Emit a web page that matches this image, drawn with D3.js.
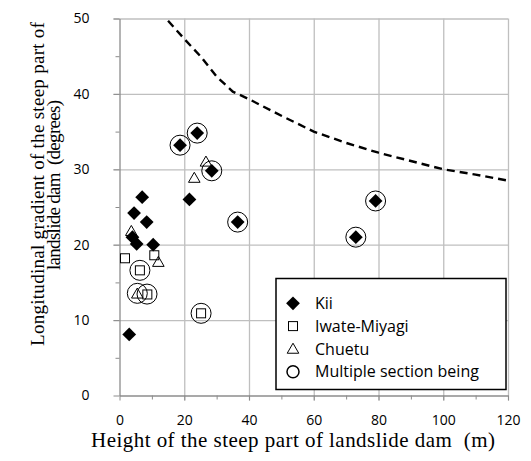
<!DOCTYPE html>
<html>
<head>
<meta charset="utf-8">
<script src="https://d3js.org/d3.v7.min.js"></script>
<style>
  body { margin: 0; background: #fff; }
  .tick text { font-family: "Open Sans", Lato, sans-serif; font-size: 14px; fill: #000; }
  .axisTitle { font-family: "Liberation Serif", "Times New Roman", serif; font-size: 19px; fill: #000; }
  .legendText { font-family: "Open Sans", Lato, sans-serif; font-size: 16px; fill: #000; }
</style>
</head>
<body>
<div id="scatter"></div>
<script>
// data
var kiiX = [3.0, 4.0, 4.5, 5.3, 7.0, 8.4, 10.4, 18.7, 21.6, 24.0, 28.5, 36.5, 73.0, 79.1];
var kiiY = [8.1, 21.0, 24.2, 20.1, 26.3, 23.0, 20.0, 33.2, 26.0, 34.8, 29.8, 23.0, 21.0, 25.8];

var iwateX = [1.7, 10.75, 6.3, 8.6, 25.2];
var iwateY = [18.2, 18.6, 16.6, 13.4, 10.9];

var chuetuX = [3.65, 12.0, 5.5, 23.1, 26.7];
var chuetuY = [21.8, 17.7, 13.5, 28.85, 31.0];

var multiX = [18.7, 24.0, 28.5, 36.5, 73.0, 79.1, 25.2, 6.3, 5.5, 8.5];
var multiY = [33.2, 34.8, 29.8, 23.0, 21.0, 25.8, 10.9, 16.6, 13.55, 13.45];

var limitX = [15, 20, 25, 30, 35, 40, 50, 60, 70, 80, 90, 100, 110, 120];
var limitY = [49.7, 47.3, 45.0, 42.3, 40.3, 39.3, 37.1, 35.0, 33.5, 32.2, 31.1, 30.0, 29.3, 28.5];

var xTicks = [0, 20, 40, 60, 80, 100, 120];
var yTicks = [0, 10, 20, 30, 40, 50];
var legendLabels = ["Kii", "Iwate-Miyagi", "Chuetu", "Multiple section being"];

var svgWidth = 531;
var svgHeight = 461;

var svg = d3.select("#scatter")
  .append("svg")
  .attr("width", svgWidth)
  .attr("height", svgHeight);

// scales
var x = d3.scaleLinear().domain([0, 120]).range([119.5, 508]);
var y = d3.scaleLinear().domain([0, 50]).range([395.5, 18.5]);

var gridColor = "#bfbfbf";
var axisColor = "#8c8c8c";

// gridlines (with the outer major ticks)
var yGrid = svg.append("g")
  .attr("transform", `translate(${x(120)},0)`)
  .call(d3.axisLeft(y).tickValues(yTicks.slice(1)).tickSize(x(120) - x(0) + 6).tickFormat(""));
yGrid.select(".domain").remove();
yGrid.selectAll("line").attr("stroke", gridColor).attr("stroke-width", 1.3);

var xGrid = svg.append("g")
  .attr("transform", `translate(0,${y(0) + 5})`)
  .call(d3.axisTop(x).tickValues(xTicks.slice(1)).tickSize(y(0) - y(50) + 5).tickFormat(""));
xGrid.select(".domain").remove();
xGrid.selectAll("line").attr("stroke", gridColor).attr("stroke-width", 1.3);

// minor ticks
var yMinor = svg.append("g")
  .attr("transform", `translate(${x(0)},0)`)
  .call(d3.axisLeft(y).tickValues([5, 15, 25, 35, 45]).tickSize(4).tickFormat(""));
yMinor.select(".domain").remove();
yMinor.selectAll("line").attr("stroke", axisColor);

var xMinor = svg.append("g")
  .attr("transform", `translate(0,${y(0)})`)
  .call(d3.axisBottom(x).tickValues([10, 30, 50, 70, 90, 110]).tickSize(4).tickFormat(""));
xMinor.select(".domain").remove();
xMinor.selectAll("line").attr("stroke", axisColor);

// main axes
var yAxis = svg.append("g")
  .attr("transform", `translate(${x(0)},0)`)
  .call(d3.axisLeft(y).tickValues(yTicks).tickSize(6).tickPadding(24).tickSizeOuter(0));
yAxis.select(".domain").attr("stroke", axisColor).attr("stroke-width", 1.3);
yAxis.selectAll("line").attr("stroke", axisColor);

var xAxis = svg.append("g")
  .attr("transform", `translate(0,${y(0)})`)
  .call(d3.axisBottom(x).tickValues(xTicks).tickSize(5).tickPadding(15).tickSizeOuter(0));
xAxis.select(".domain").attr("stroke", axisColor).attr("stroke-width", 1.3);
xAxis.selectAll("line").attr("stroke", axisColor);

// dashed limit line
var line = d3.line()
  .x(function(d, i) { return x(limitX[i]); })
  .y(function(d, i) { return y(limitY[i]); });

svg.append("path")
  .attr("d", line(limitX))
  .attr("fill", "none")
  .attr("stroke", "#000")
  .attr("stroke-width", 2.4)
  .attr("stroke-dasharray", "8,5");

// markers
var diamond = d3.symbol().type(d3.symbolSquare).size(95);
var triangle = d3.symbol().type(d3.symbolTriangle).size(58);

svg.append("g").selectAll("path")
  .data(kiiX)
  .enter()
  .append("path")
  .attr("d", diamond)
  .attr("transform", (d, i) => `translate(${x(d)},${y(kiiY[i])}) rotate(45)`)
  .attr("fill", "#000");

svg.append("g").selectAll("rect")
  .data(iwateX)
  .enter()
  .append("rect")
  .attr("x", d => x(d) - 4.5)
  .attr("y", (d, i) => y(iwateY[i]) - 4.5)
  .attr("width", 9)
  .attr("height", 9)
  .attr("fill", "none")
  .attr("stroke", "#000")
  .attr("stroke-width", 1);

svg.append("g").selectAll("path")
  .data(chuetuX)
  .enter()
  .append("path")
  .attr("d", triangle)
  .attr("transform", (d, i) => `translate(${x(d)},${y(chuetuY[i]) + 1})`)
  .attr("fill", "none")
  .attr("stroke", "#000")
  .attr("stroke-width", 1);

svg.append("g").selectAll("circle")
  .data(multiX)
  .enter()
  .append("circle")
  .attr("cx", d => x(d))
  .attr("cy", (d, i) => y(multiY[i]))
  .attr("r", 10)
  .attr("fill", "none")
  .attr("stroke", "#000")
  .attr("stroke-width", 1);

// legend
var legend = svg.append("g");
legend.append("rect")
  .attr("x", 276)
  .attr("y", 278.5)
  .attr("width", 230)
  .attr("height", 111)
  .attr("fill", "#fff")
  .attr("stroke", "#000")
  .attr("stroke-width", 1.5);

var rowY = d3.scalePoint().domain(legendLabels).range([303.3, 371.7]);

legendLabels.forEach(function(label, i) {
  var cy = rowY(label);
  if (i === 0) {
    legend.append("path").attr("d", diamond)
      .attr("transform", `translate(293,${cy}) rotate(45)`).attr("fill", "#000");
  } else if (i === 1) {
    legend.append("rect").attr("x", 288.5).attr("y", cy - 4.5).attr("width", 9).attr("height", 9)
      .attr("fill", "none").attr("stroke", "#000");
  } else if (i === 2) {
    legend.append("path").attr("d", triangle)
      .attr("transform", `translate(293,${cy + 1})`).attr("fill", "none").attr("stroke", "#000");
  } else {
    legend.append("circle").attr("cx", 293).attr("cy", cy).attr("r", 6)
      .attr("fill", "none").attr("stroke", "#000").attr("stroke-width", 1.5);
  }
  legend.append("text")
    .attr("class", "legendText")
    .attr("x", 315)
    .attr("y", cy)
    .attr("dy", "0.35em")
    .text(label);
});

// axis titles
svg.append("text")
  .attr("class", "axisTitle")
  .attr("x", 293)
  .attr("y", 447)
  .attr("text-anchor", "middle")
  .attr("textLength", 404)
  .attr("lengthAdjust", "spacing")
  .style("font-size", "21px")
  .text("Height of the steep part of landslide dam\u00a0\u00a0(m)");

svg.append("text")
  .attr("class", "axisTitle")
  .attr("transform", "translate(44,184) rotate(-90)")
  .attr("text-anchor", "middle")
  .attr("textLength", 324)
  .attr("lengthAdjust", "spacing")
  .text("Longitudinal gradient of the steep part of");

svg.append("text")
  .attr("class", "axisTitle")
  .attr("transform", "translate(60,185) rotate(-90)")
  .attr("text-anchor", "middle")
  .attr("textLength", 170)
  .attr("lengthAdjust", "spacing")
  .text("landslide dam\u00a0\u00a0(degrees)");
</script>
</body>
</html>
